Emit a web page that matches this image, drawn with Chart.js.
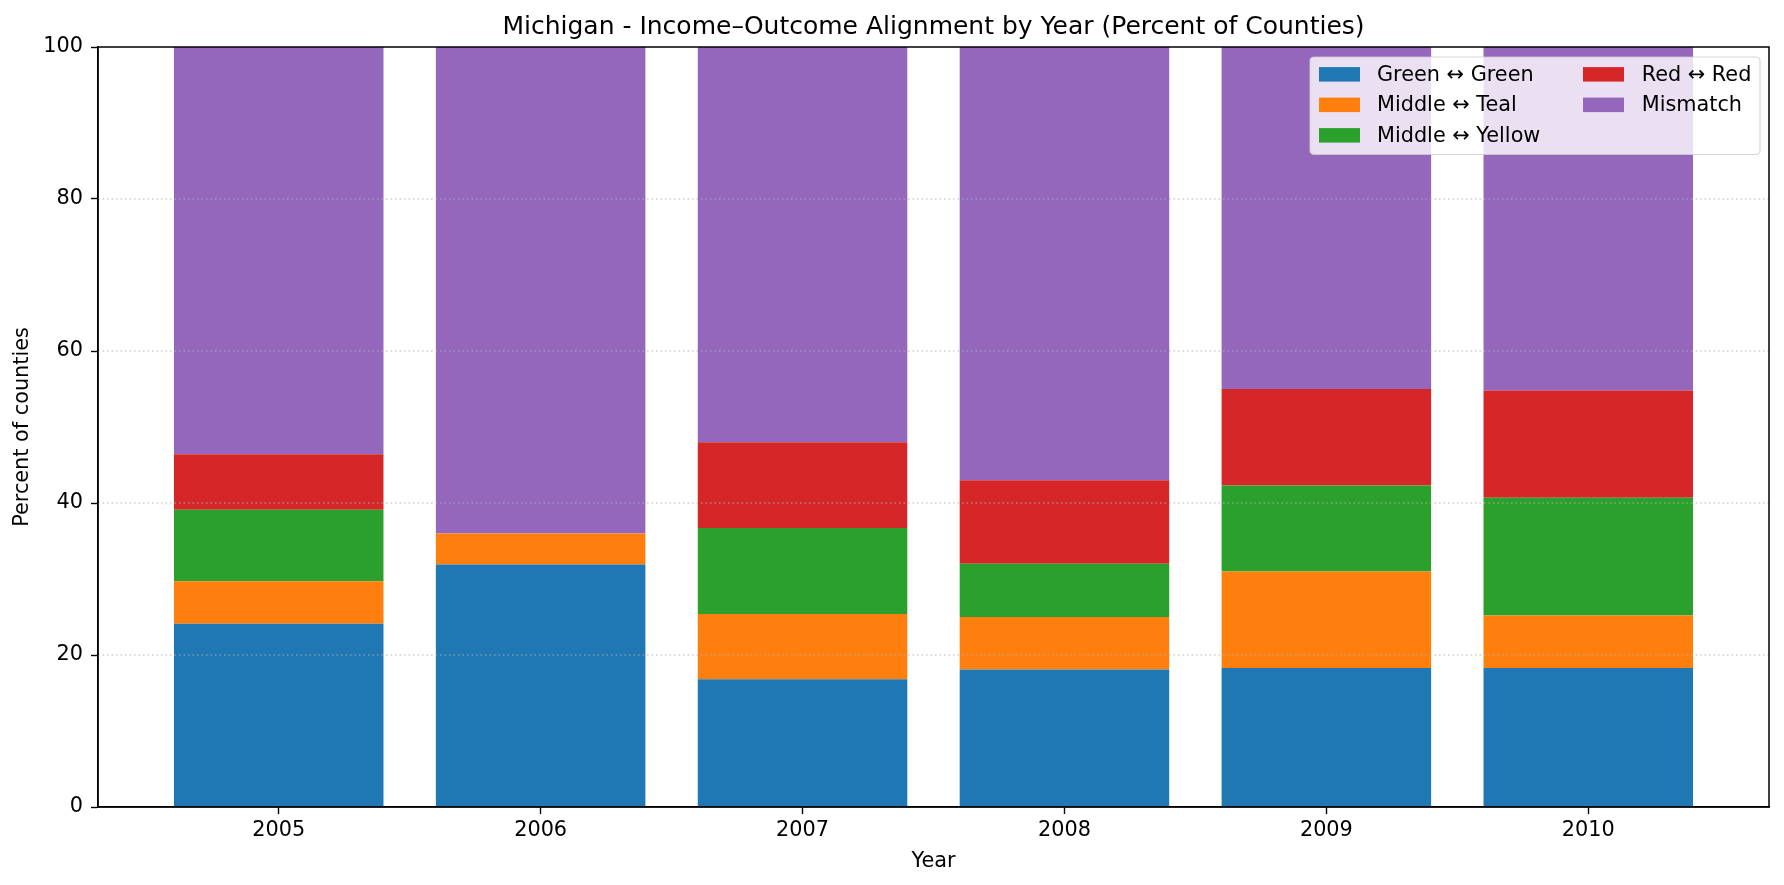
<!DOCTYPE html>
<html>
<head>
<meta charset="utf-8">
<script src="https://cdn.jsdelivr.net/npm/chart.js@4.4.1/dist/chart.umd.min.js"></script>
<style>
  html, body { margin: 0; padding: 0; background: #fff; }
  #wrap { position: relative; width: 1784px; height: 885px; }
</style>
</head>
<body>
<div id="wrap"><canvas id="chart" width="1784" height="885"></canvas></div>
<script>
const years = ['2005', '2006', '2007', '2008', '2009', '2010'];
const greenGreen   = [24.1, 31.9, 16.8, 18.1, 18.3, 18.3];
const middleTeal   = [5.6, 4.1, 8.6, 6.9, 12.7, 6.9];
const middleYellow = [9.4, 0, 11.3, 7.0, 11.3, 15.5];
const redRed       = [7.3, 0, 11.3, 11.0, 12.7, 14.1];
const mismatch     = [53.6, 64.0, 52.0, 57.0, 45.0, 45.2];
const yTicks = [0, 20, 40, 60, 80, 100];
const titleText = 'Michigan - Income\u2013Outcome Alignment by Year (Percent of Counties)';

const FONT = 'DejaVu Sans';
const FS = 20.8;
Chart.defaults.font.family = FONT;
Chart.defaults.color = '#000';

const pts = arr => arr.map((v, i) => ({x: i, y: v}));

function ds(label, values, color) {
  return {
    label: label,
    data: pts(values),
    backgroundColor: color,
    borderWidth: 0,
    barPercentage: 0.8,
    categoryPercentage: 1.0
  };
}

// grid on top of bars, full frame, title and legend like matplotlib
const overlay = {
  id: 'overlay',
  afterDatasetsDraw(chart) {
    const {ctx, chartArea: a, scales: {y}} = chart;
    ctx.save();
    ctx.strokeStyle = 'rgba(176,176,176,0.6)';
    ctx.lineWidth = 1.6;
    ctx.setLineDash([1.6, 2.9]);
    yTicks.slice(1, -1).forEach(v => {
      const py = y.getPixelForValue(v);
      ctx.beginPath();
      ctx.moveTo(a.left, py);
      ctx.lineTo(a.right, py);
      ctx.stroke();
    });
    ctx.setLineDash([]);
    ctx.strokeStyle = '#000';
    ctx.lineWidth = 1.5;
    ctx.strokeRect(a.left, a.top, a.right - a.left, a.bottom - a.top);

    ctx.fillStyle = '#000';
    ctx.font = '25px "' + FONT + '"';
    ctx.textAlign = 'center';
    ctx.textBaseline = 'alphabetic';
    ctx.fillText(titleText, (a.left + a.right) / 2, 33.5);
    ctx.restore();
  },
  afterDraw(chart) {
    const {ctx, chartArea: a} = chart;
    const w = 450, h = 97.5;
    const fx = a.right - 9 - w, fy = a.top + 10;
    ctx.save();
    ctx.beginPath();
    ctx.roundRect(fx, fy, w, h, 4);
    ctx.fillStyle = 'rgba(255,255,255,0.8)';
    ctx.fill();
    ctx.strokeStyle = 'rgba(204,204,204,0.8)';
    ctx.lineWidth = 1.2;
    ctx.stroke();
    ctx.font = FS + 'px "' + FONT + '"';
    ctx.textAlign = 'left';
    ctx.textBaseline = 'middle';
    chart.data.datasets.forEach((d, i) => {
      const col = i < 3 ? 0 : 1;
      const row = i < 3 ? i : i - 3;
      const cy = fy + 17.3 + row * 30.5;
      const sx = fx + (col ? 273 : 9);
      ctx.fillStyle = d.backgroundColor;
      ctx.fillRect(sx, cy - 7.2, 41, 14.5);
      ctx.fillStyle = '#000';
      ctx.fillText(d.label, fx + (col ? 331.7 : 67), cy + 1);
    });
    ctx.restore();
  }
};

new Chart(document.getElementById('chart'), {
  type: 'bar',
  data: {
    datasets: [
      ds('Green \u2194 Green', greenGreen, '#1f77b4'),
      ds('Middle \u2194 Teal', middleTeal, '#ff7f0e'),
      ds('Middle \u2194 Yellow', middleYellow, '#2ca02c'),
      ds('Red \u2194 Red', redRed, '#d62728'),
      ds('Mismatch', mismatch, '#9467bd')
    ]
  },
  options: {
    responsive: false,
    animation: false,
    layout: { padding: { left: 0, right: 15, top: 47, bottom: 0 } },
    plugins: {
      legend: { display: false },
      title: { display: false },
      tooltip: { enabled: false }
    },
    scales: {
      x: {
        type: 'linear',
        stacked: true,
        offset: false,
        min: -0.69,
        max: 5.69,
        afterBuildTicks: s => { s.ticks = years.map((_, i) => ({value: i})); },
        afterFit: s => { s.height = 78; },
        ticks: {
          callback: v => years[v],
          font: { size: FS },
          color: '#000',
          padding: 4,
          maxRotation: 0,
          autoSkip: false
        },
        grid: { offset: false, drawOnChartArea: false, drawTicks: true, tickLength: 7, tickColor: '#000', tickWidth: 1.4 },
        border: { display: true, color: '#000', width: 1.5 },
        title: { display: true, text: 'Year', font: { size: FS }, color: '#000', padding: { top: 0, bottom: 10.5 } }
      },
      y: {
        stacked: true,
        min: 0,
        max: 100,
        afterBuildTicks: s => { s.ticks = yTicks.map(v => ({value: v})); },
        afterFit: s => { s.width = 98; },
        ticks: { font: { size: FS }, color: '#000', padding: 8 },
        grid: { drawOnChartArea: false, drawTicks: true, tickLength: 7, tickColor: '#000', tickWidth: 1.4 },
        border: { display: true, color: '#000', width: 1.5 },
        title: { display: true, text: 'Percent of counties', font: { size: FS }, color: '#000', padding: { top: 9.8, bottom: 0 } }
      }
    }
  },
  plugins: [overlay]
});
</script>
</body>
</html>
